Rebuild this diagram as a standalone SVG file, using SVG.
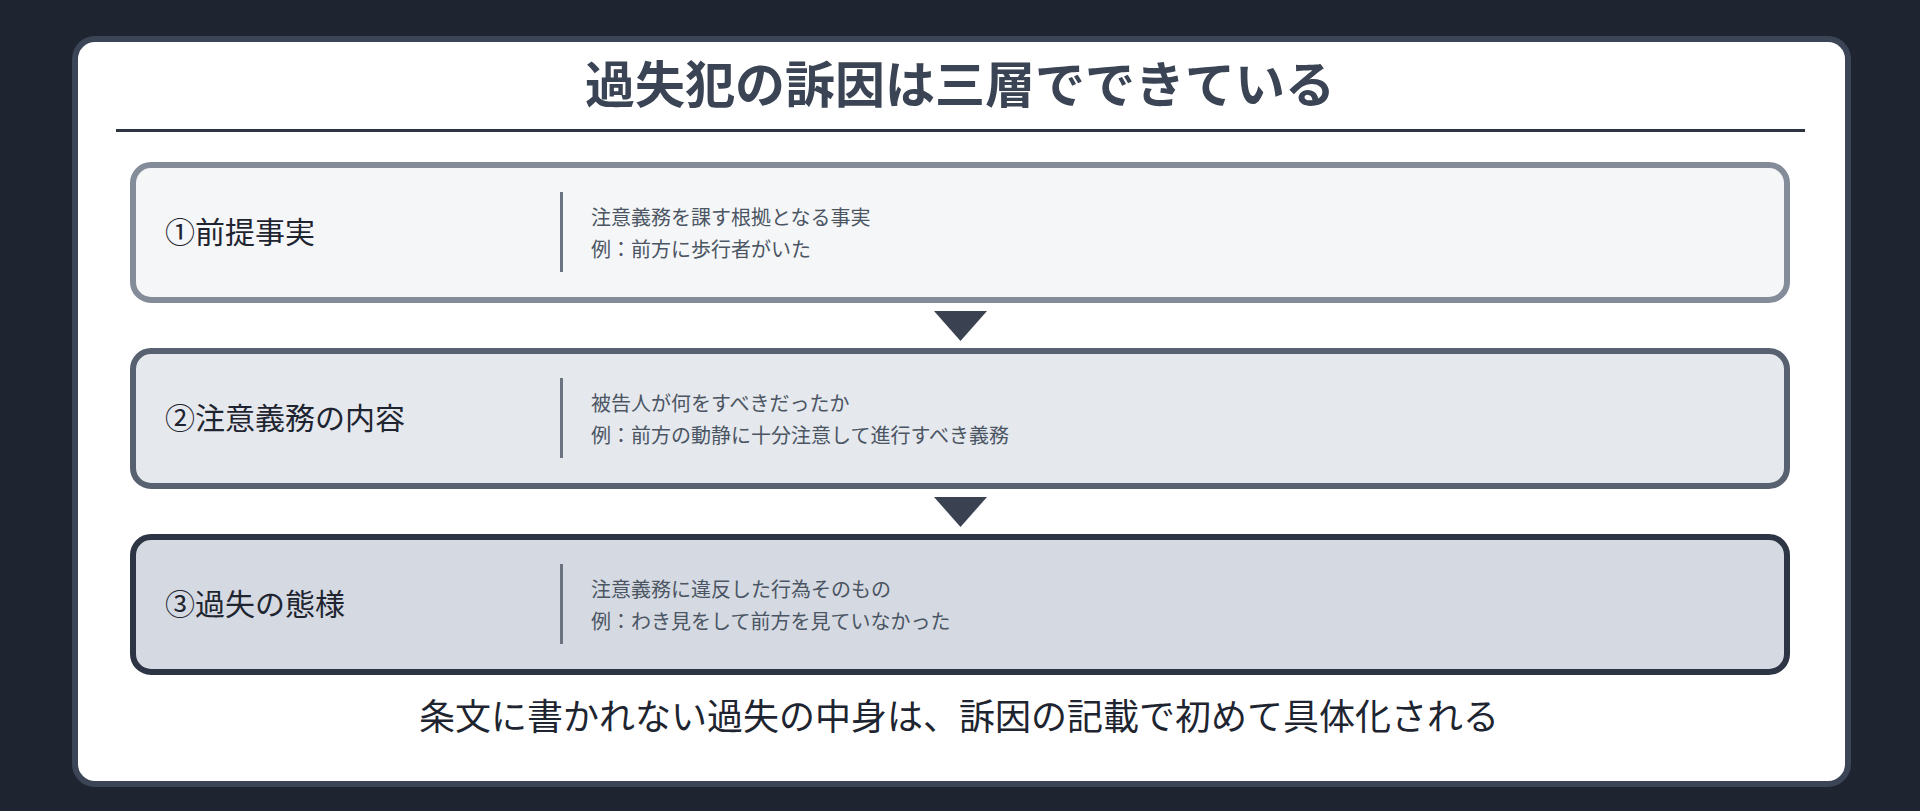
<svg xmlns="http://www.w3.org/2000/svg" width="1920" height="811" viewBox="0 0 1920 811">
  <style>
    .cjk { font-family: "Noto Sans CJK JP", "Noto Sans", sans-serif; }
    .title { font-size: 50px; font-weight: 700; fill: #3a4454; }
    .label { font-size: 30px; font-weight: 400; fill: #1f2530; }
    .desc { font-size: 20px; font-weight: 400; fill: #4b5563; }
    .footer { font-size: 36px; font-weight: 400; fill: #1e2530; }
    .divider { stroke: #6b7280; stroke-width: 3; }
    .arrow { fill: #3a4252; }
  </style>
  <rect x="0" y="0" width="1920" height="811" fill="#1e2530"/>
  <rect x="75" y="39" width="1773" height="745" rx="20" ry="20" fill="#ffffff" stroke="#3b4555" stroke-width="6"/>

  <g id="title">
    <text class="cjk title" x="960" y="103" text-anchor="middle">過失犯の訴因は三層でできている</text>
    <line x1="116" y1="130.5" x2="1805" y2="130.5" stroke="#2d3440" stroke-width="3"/>
  </g>

  <g id="node1">
    <rect x="133" y="165" width="1654" height="135" rx="18" ry="18" fill="#f5f6f8" stroke="#848c99" stroke-width="6"/>
    <text class="cjk label" x="165" y="243">①前提事実</text>
    <line class="divider" x1="561.5" y1="192" x2="561.5" y2="272"/>
    <text class="cjk desc" x="591" y="225">注意義務を課す根拠となる事実</text>
    <text class="cjk desc" x="591" y="257">例：前方に歩行者がいた</text>
  </g>

  <g id="node2">
    <rect x="133" y="351" width="1654" height="135" rx="18" ry="18" fill="#e5e8ed" stroke="#586170" stroke-width="6"/>
    <text class="cjk label" x="165" y="429">②注意義務の内容</text>
    <line class="divider" x1="561.5" y1="378" x2="561.5" y2="458"/>
    <text class="cjk desc" x="591" y="411">被告人が何をすべきだったか</text>
    <text class="cjk desc" x="591" y="443">例：前方の動静に十分注意して進行すべき義務</text>
  </g>

  <g id="node3">
    <rect x="133" y="537" width="1654" height="135" rx="18" ry="18" fill="#d5dae2" stroke="#2d3545" stroke-width="6"/>
    <text class="cjk label" x="165" y="615">③過失の態様</text>
    <line class="divider" x1="561.5" y1="564" x2="561.5" y2="644"/>
    <text class="cjk desc" x="591" y="597">注意義務に違反した行為そのもの</text>
    <text class="cjk desc" x="591" y="629">例：わき見をして前方を見ていなかった</text>
  </g>

  <g id="connectors">
    <polygon class="arrow" points="934,311 987,311 960.5,341"/>
    <polygon class="arrow" points="934,497 987,497 960.5,527"/>
  </g>

  <g id="footer">
    <text class="cjk footer" x="959" y="730" text-anchor="middle">条文に書かれない過失の中身は、訴因の記載で初めて具体化される</text>
  </g>
</svg>
